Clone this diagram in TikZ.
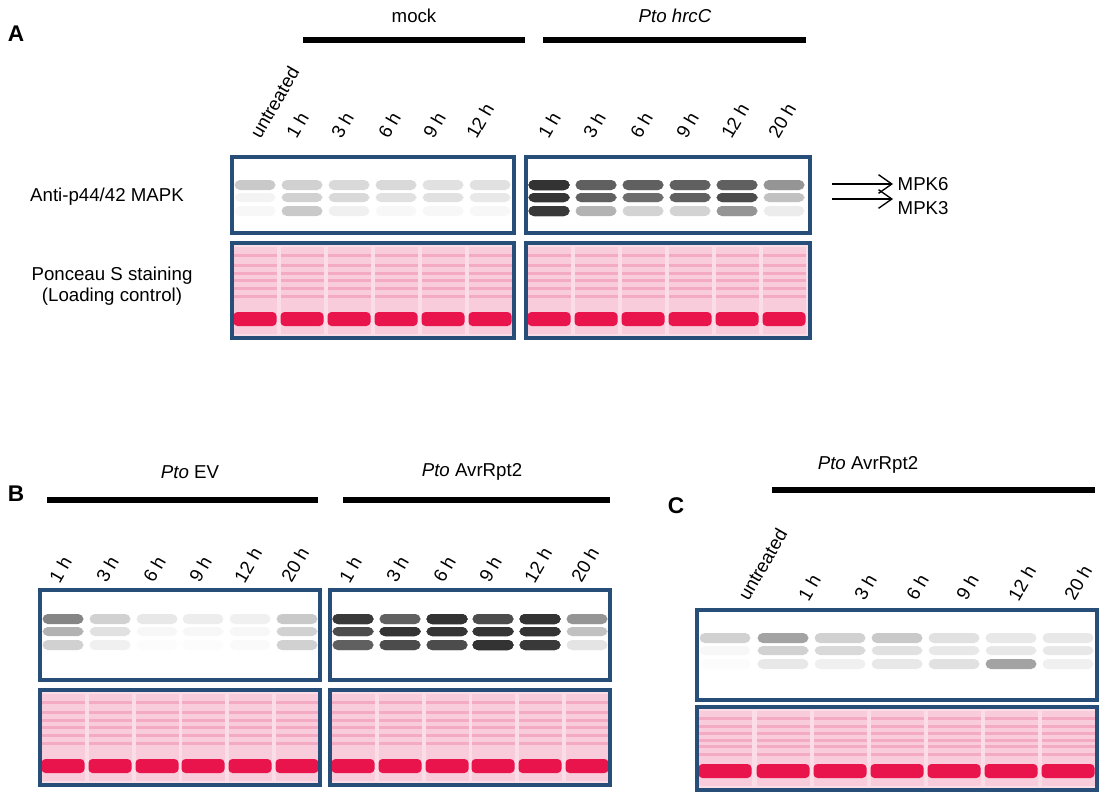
\documentclass[tikz,border=0pt]{standalone}
\usepackage{fontspec}
\setmainfont{Liberation Sans}
\usepackage{tikz}
\usetikzlibrary{arrows.meta}
\definecolor{boxblue}{RGB}{38,78,120}
\definecolor{ponpink}{RGB}{244,170,195}
\definecolor{ponred}{RGB}{232,20,75}
\tikzset{blotbox/.style={draw=boxblue,line width=3},
  bar/.style={line width=4},
  lanelabel/.style={rotate=60,anchor=west,inner sep=1,font=\fontsize{14}{16}\selectfont},
  headlabel/.style={font=\fontsize{14}{16}\selectfont},
  panel/.style={font=\bfseries\fontsize{17}{19}\selectfont},
  mpk/.style={-{Straight Barb[length=10,width=14]},line width=1}}
% one lane of the western blot: centre, top, width, three band strengths
\newcommand{\blotlane}[6]{%
  \fill[black!80,opacity=#4*0.75,rounded corners=4] (#1-#3/2+3,#2+20) rectangle (#1+#3/2-3,#2+30);
  \fill[black!80,opacity=#5*0.75,rounded corners=4] (#1-#3/2+3,#2+33) rectangle (#1+#3/2-3,#2+42);
  \fill[black!80,opacity=#6*0.75,rounded corners=4] (#1-#3/2+3,#2+46) rectangle (#1+#3/2-3,#2+56);}
% one lane of the loading control: centre, top, bottom, width
\newcommand{\ponclane}[4]{%
  \fill[ponpink!60] (#1-#4/2+2,#2+4) rectangle (#1+#4/2-2,#3-4);
  \foreach \f in {0.12,0.22,0.3,0.38,0.46,0.55}
    \fill[ponpink] (#1-#4/2+2,{#2+\f*(#3-#2)}) rectangle (#1+#4/2-2,{#2+\f*(#3-#2)+3});
  \fill[ponred,rounded corners=3] (#1-#4/2+2,#3-26) rectangle (#1+#4/2-2,#3-12);}
\begin{document}
\begin{tikzpicture}[x=0.75pt,y=0.75pt,yscale=-1,xscale=1]
\useasboundingbox (0,0) rectangle (1115,800);

% Panel A
\node[panel] (lA) at (16,34) {A};
\node[headlabel] (mock) at (414,16) {mock};
\node[headlabel] (hrcc) at (675,16) {\itshape Pto hrcC};
\draw[bar] (303,40) -- (525,40);
\draw[bar] (543,40) -- (806,40);
\foreach \x/\t in {262/untreated,298/1 h,343/3 h,390/6 h,435/9 h,478/12 h,
  550/1 h,595/3 h,642/6 h,688/9 h,733/12 h,780/20 h}
  \node[lanelabel] at (\x-8,138) {\t};
\foreach \x/\a/\b/\c in {255/.35/.08/.05,302/.3/.3/.35,349/.25/.25/.1,396/.25/.2/.05,443/.2/.2/.05,490/.2/.15/.05}
  \blotlane{\x}{160}{47}{\a}{\b}{\c}
\foreach \x/\a/\b/\c in {549/.9/.7/.6,596/.3/.3/.1,643/.3/.25/.05,690/.3/.3/.05,737/.3/.4/.15,784/.15/.08/.02}
  \blotlane{\x}{160}{47}{\a}{\b}{\c}
\draw[blotbox] (232,157) rectangle (514,233);
\draw[blotbox] (526,157) rectangle (810,233);
\fill[ponpink!40] (232,243) rectangle (514,338);
\fill[ponpink!40] (526,243) rectangle (810,338);
\foreach \x in {255,302,349,396,443,490,549,596,643,690,737,784}
  \ponclane{\x}{243}{338}{47}
\draw[blotbox] (232,243) rectangle (514,338);
\draw[blotbox] (526,243) rectangle (810,338);
\node[headlabel] (mapk) at (107,197) {Anti-p44/42 MAPK};
\node[headlabel,align=center] (ponc) at (112,286) {Ponceau S staining\\(Loading control)};
\node[headlabel,anchor=west] (mpk6) at (893,184) {MPK6};
\node[headlabel,anchor=west] (mpk3) at (893,208) {MPK3};
\coordinate (a6) at (832,184);
\coordinate (a3) at (832,199);
\draw[mpk] (a6) -- (mpk6.west);
\draw[mpk] (a3) -- (mpk3.west |- a3);

% Panel B
\node[panel] (lB) at (16,494) {B};
\node[headlabel] (ev) at (190,472) {\itshape Pto \upshape EV};
\node[headlabel] (avrb) at (472,472) {\itshape Pto \upshape AvrRpt2};
\draw[bar] (47,500) -- (318,500);
\draw[bar] (343,500) -- (610,500);
\foreach \x/\t in {63/1 h,110/3 h,157/6 h,203/9 h,248/12 h,295/20 h,
  353/1 h,400/3 h,447/6 h,493/9 h,538/12 h,585/20 h}
  \node[lanelabel] at (\x-10,582) {\t};
\foreach \x/\a/\b/\c in {63/.8/.5/.3,110/.3/.2/.1,157/.15/.05/.02,203/.12/.05/.02,250/.1/.05/.03,297/.35/.3/.3}
  \blotlane{\x}{594}{47}{\a}{\b}{\c}
\foreach \x/\a/\b/\c in {353/.6/.4/.3,400/.3/.85/.4,447/.85/.7/.4,493/.4/.8/.85,540/.85/.8/.6,587/.15/.08/.03}
  \blotlane{\x}{594}{47}{\a}{\b}{\c}
\draw[blotbox] (40,590) rectangle (320,680);
\draw[blotbox] (330,590) rectangle (610,680);
\fill[ponpink!40] (40,690) rectangle (320,785);
\fill[ponpink!40] (330,690) rectangle (610,785);
\foreach \x in {63,110,157,203,250,297,353,400,447,493,540,587}
  \ponclane{\x}{690}{785}{47}
\draw[blotbox] (40,690) rectangle (320,785);
\draw[blotbox] (330,690) rectangle (610,785);

% Panel C
\node[panel] (lC) at (676,506) {C};
\node[headlabel] (avrc) at (868,465) {\itshape Pto \upshape AvrRpt2};
\draw[bar] (772,490) -- (1095,490);
\foreach \x/\t in {752/untreated,812/1 h,868/3 h,920/6 h,970/9 h,1022/12 h,1078/20 h}
  \node[lanelabel] at (\x-10,600) {\t};
\foreach \x/\a/\b/\c in {725/.3/.05/.02,783/.6/.3/.15,840/.3/.25/.1,897/.35/.2/.15,954/.2/.15/.2,1011/.15/.15/.6,1068/.15/.15/.1}
  \blotlane{\x}{613}{57}{\a}{\b}{\c}
\draw[blotbox] (697,610) rectangle (1097,700);
\fill[ponpink!40] (697,707) rectangle (1097,790);
\foreach \x in {725,783,840,897,954,1011,1068}
  \ponclane{\x}{707}{790}{57}
\draw[blotbox] (697,707) rectangle (1097,790);
\end{tikzpicture}
\end{document}
